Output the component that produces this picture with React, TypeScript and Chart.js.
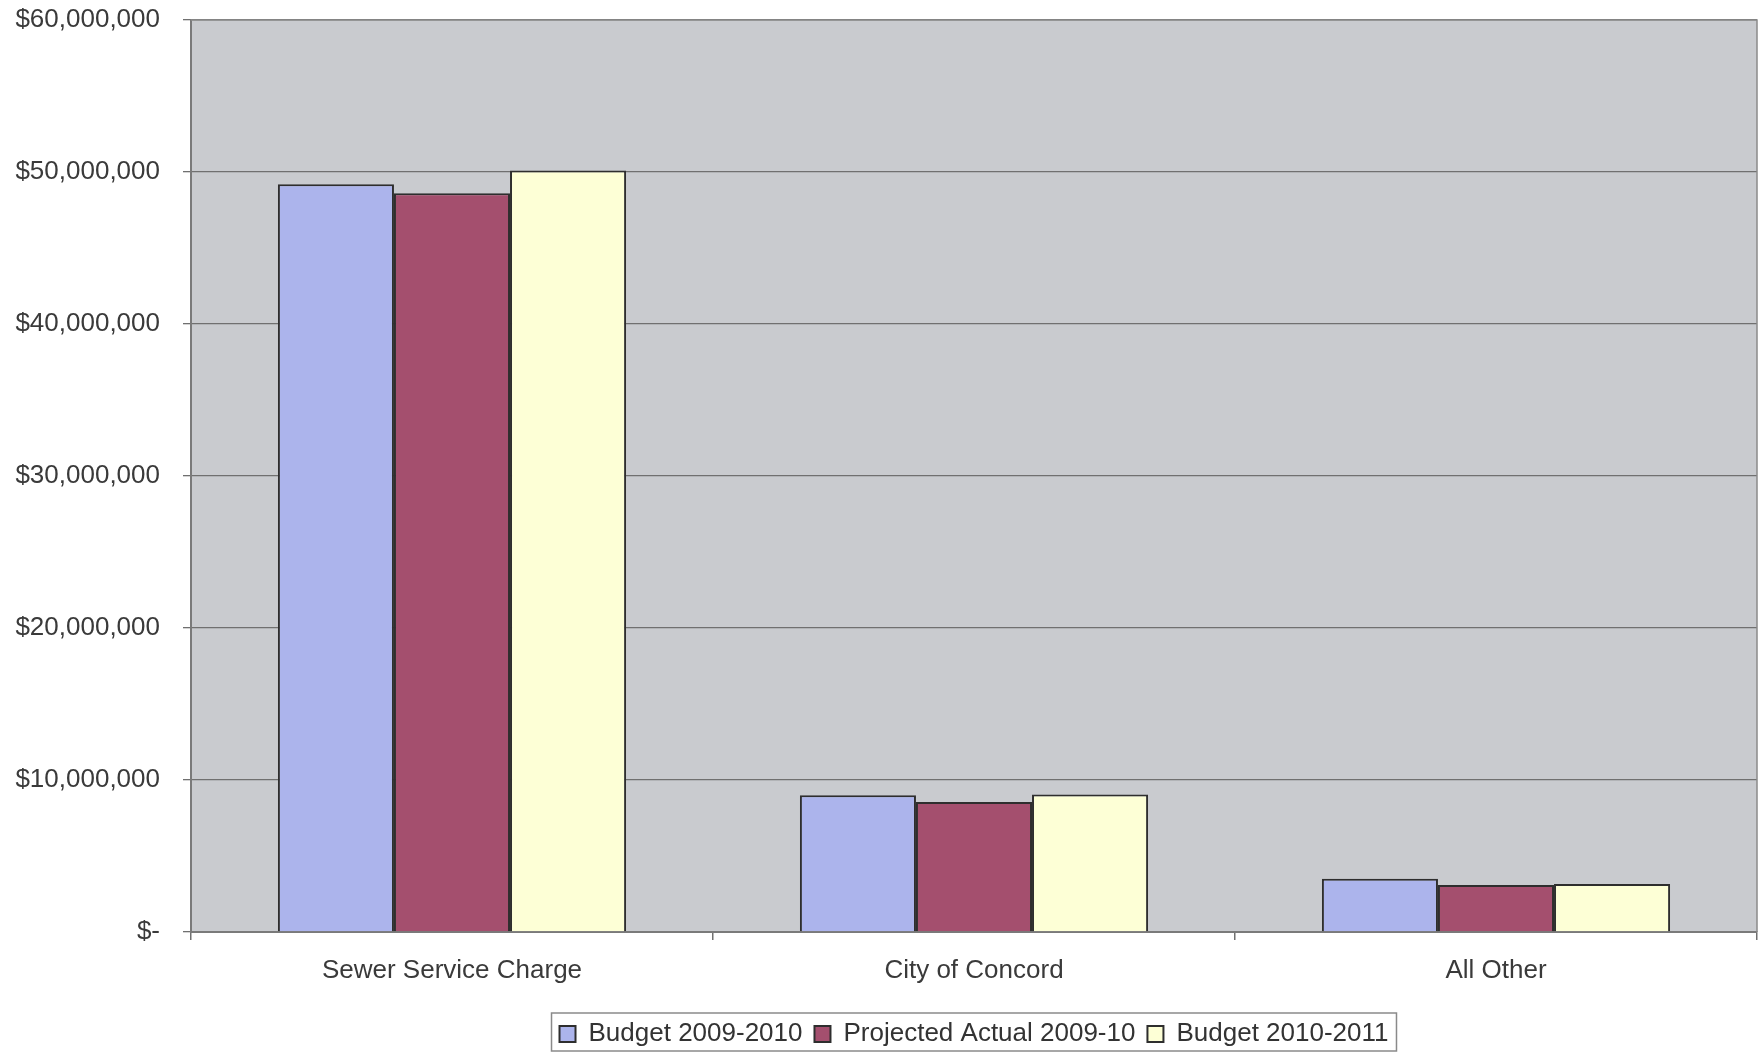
import React, { useEffect, useRef } from 'react';
import { Chart, registerables } from 'chart.js';

Chart.register(...registerables);

const categories = ['Sewer Service Charge', 'City of Concord', 'All Other'];
const seriesLabels = ['Budget 2009-2010', 'Projected Actual 2009-10', 'Budget 2010-2011'];
const budget2009_2010 = [49200000, 9000000, 3500000];
const projectedActual2009_10 = [48600000, 8550000, 3100000];
const budget2010_2011 = [50100000, 9050000, 3150000];
const yTickMin = 0;
const yTickMax = 60000000;
const yTickStep = 10000000;
const seriesColors = ['#ACB4EC', '#A44F6E', '#FDFFD6'];

const FONT = '"Liberation Sans", Arial, Helvetica, sans-serif';
const TEXT = '#3a3a3a';
const GRID = '#707070';

function formatDollar(v: number): string {
  if (v === 0) return '$-';
  return '$' + v.toLocaleString('en-US');
}

export default function App() {
  const ref = useRef<HTMLCanvasElement | null>(null);

  useEffect(() => {
    const prevMargin = document.body.style.margin;
    document.body.style.margin = '0';
    const canvas = ref.current;
    if (!canvas) return;

    const plotBg = {
      id: 'plotBg',
      beforeDraw(chart: any) {
        const { ctx, chartArea } = chart;
        ctx.save();
        ctx.fillStyle = '#C9CBCF';
        ctx.fillRect(chartArea.left, chartArea.top, chartArea.right - chartArea.left, chartArea.bottom - chartArea.top);
        ctx.restore();
      },
      afterDraw(chart: any) {
        const { ctx, chartArea } = chart;
        ctx.save();
        ctx.strokeStyle = '#8a8a8a';
        ctx.lineWidth = 1.5;
        ctx.beginPath();
        ctx.moveTo(chartArea.left, chartArea.top);
        ctx.lineTo(chartArea.right, chartArea.top);
        ctx.lineTo(chartArea.right, chartArea.bottom);
        ctx.stroke();
        ctx.restore();
      },
    };

    const legendTweak = {
      id: 'legendTweak',
      afterUpdate(chart: any) {
        const lg = chart.legend;
        if (lg) {
          lg.top += 5;
          lg.bottom += 5;
        }
      },
      afterDraw(chart: any) {
        const lg = chart.legend;
        if (!lg || !lg.legendHitBoxes || !lg.legendHitBoxes.length) return;
        const boxes = lg.legendHitBoxes;
        const first = boxes[0];
        const last = boxes[boxes.length - 1];
        const pad = lg.options.labels.padding;
        const center = lg.top + pad + 13;
        const x0 = first.left - 8;
        const x1 = last.left + last.width + 8;
        const { ctx } = chart;
        ctx.save();
        ctx.strokeStyle = '#8a8a8a';
        ctx.lineWidth = 1.5;
        ctx.strokeRect(x0, center - 21, x1 - x0, 38);
        ctx.restore();
      },
    };

    const chart = new Chart(canvas, {
      type: 'bar',
      data: {
        labels: categories,
        datasets: [
          { label: seriesLabels[0], data: budget2009_2010, backgroundColor: seriesColors[0], borderColor: '#2e2e2e', borderWidth: 2 },
          { label: seriesLabels[1], data: projectedActual2009_10, backgroundColor: seriesColors[1], borderColor: '#2e2e2e', borderWidth: 2 },
          { label: seriesLabels[2], data: budget2010_2011, backgroundColor: seriesColors[2], borderColor: '#2e2e2e', borderWidth: 2 },
        ],
      },
      options: {
        responsive: false,
        animation: false,
        layout: { padding: { top: 20, right: 3, left: 0, bottom: 0 } },
        datasets: {
          bar: { categoryPercentage: 0.667, barPercentage: 1.0 },
        },
        plugins: {
          tooltip: { enabled: false },
          legend: {
            position: 'bottom',
            fullSize: false,
            labels: {
              font: { size: 26, family: FONT },
              color: '#333333',
              boxWidth: 16,
              boxHeight: 16,
              padding: 12,
            },
          },
        },
        scales: {
          x: {
            grid: {
              display: true,
              drawOnChartArea: false,
              offset: true,
              tickLength: 8,
              color: GRID,
              lineWidth: 1.5,
            },
            border: { display: true, color: '#7a7a7a', width: 2 },
            ticks: {
              font: { size: 26, family: FONT },
              color: TEXT,
              padding: 15,
              maxRotation: 0,
            },
            afterFit(scale: any) {
              scale.height = 72;
            },
          },
          y: {
            min: yTickMin,
            max: yTickMax,
            grid: {
              color: GRID,
              lineWidth: 1.3,
              tickLength: 8,
            },
            border: { display: true, color: '#7a7a7a', width: 2 },
            ticks: {
              stepSize: yTickStep,
              font: { size: 26, family: FONT },
              color: TEXT,
              padding: 23,
              callback: (v: any) => formatDollar(Number(v)),
            },
            afterFit(scale: any) {
              scale.width = 191;
              scale.paddingTop = 0;
              scale.paddingBottom = 0;
            },
          },
        },
      },
      plugins: [plotBg, legendTweak],
    } as any);

    return () => {
      chart.destroy();
      document.body.style.margin = prevMargin;
    };
  }, []);

  return (
    <div style={{ width: 1760, height: 1052, background: '#ffffff' }}>
      <canvas ref={ref} width={1760} height={1052} style={{ display: 'block' }} />
    </div>
  );
}
